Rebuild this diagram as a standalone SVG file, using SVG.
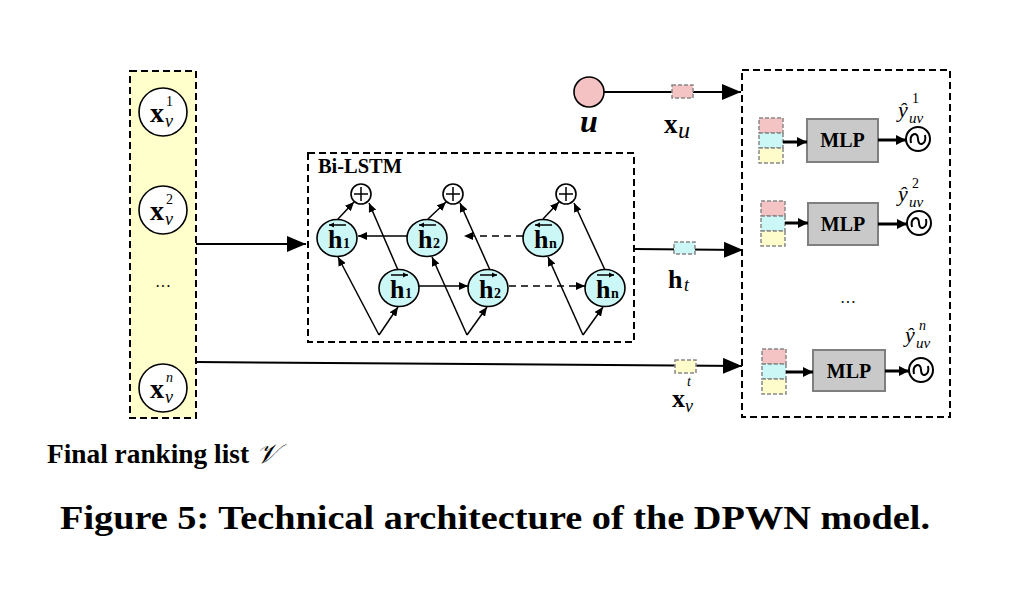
<svg xmlns="http://www.w3.org/2000/svg" width="1020" height="592" viewBox="0 0 1020 592">
<defs>
<style>
.dash{fill:none;stroke:#000;stroke-width:2;stroke-dasharray:7,4}
.in{fill:#fff;stroke:#000;stroke-width:1.6}
.hn{fill:#CCF7F7;stroke:#000;stroke-width:1.6}
.ln{stroke:#000;stroke-width:1.5;fill:none}
.big{stroke:#000;stroke-width:2;fill:none}
.mlp{fill:#C9C9C9;stroke:#7F7F7F;stroke-width:2}
.sq{stroke:#888;stroke-width:1.5;stroke-dasharray:4,2}
.pk{fill:#F4C4C4}.cy{fill:#CCF7F7}.yl{fill:#FFFCCC}
.t{font-family:"Liberation Serif","Times New Roman",serif;fill:#000}
.b{font-weight:bold}
.i{font-style:italic}
</style>
<marker id="mb" markerUnits="userSpaceOnUse" markerWidth="20" markerHeight="16" refX="19" refY="8" orient="auto"><path d="M0,0 L19,8 L0,16 z" fill="#000"/></marker>
<marker id="ms" markerUnits="userSpaceOnUse" markerWidth="10" markerHeight="8" refX="9" refY="4" orient="auto"><path d="M0,0 L9,4 L0,8 z" fill="#000"/></marker>
<marker id="mm" markerUnits="userSpaceOnUse" markerWidth="11" markerHeight="10" refX="10" refY="5" orient="auto"><path d="M0,0 L10,5 L0,10 z" fill="#000"/></marker>
<marker id="mt" markerUnits="userSpaceOnUse" markerWidth="6" markerHeight="6" refX="5" refY="3" orient="auto"><path d="M0,0.5 L5,3 L0,5.5 z" fill="#000"/></marker>
</defs>

<!-- left list -->
<g id="list">
<rect x="130" y="71" width="66" height="347" fill="#FFFFCC" stroke="#000" stroke-width="2" stroke-dasharray="7,4"/>
</g>
<g id="x1">
<circle class="in" cx="163" cy="112" r="24"/>
<text class="t b" x="150" y="122" font-size="28">x</text>
<text class="t" x="166" y="106" font-size="14">1</text>
<text class="t i" x="165" y="127" font-size="18">v</text>
</g>
<g id="x2">
<circle class="in" cx="163" cy="210" r="24"/>
<text class="t b" x="150" y="220" font-size="28">x</text>
<text class="t" x="166" y="204" font-size="14">2</text>
<text class="t i" x="165" y="225" font-size="18">v</text>
</g>
<text class="t" x="163" y="292" font-size="16" text-anchor="middle">···</text>
<g id="xn">
<circle class="in" cx="163" cy="388" r="24"/>
<text class="t b" x="150" y="398" font-size="28">x</text>
<text class="t i" x="166" y="382" font-size="14">n</text>
<text class="t i" x="165" y="403" font-size="18">v</text>
</g>

<!-- Bi-LSTM -->
<g id="bilstm">
<rect class="dash" x="308" y="153" width="326" height="189"/>
<text class="t b" x="318" y="173" font-size="20" textLength="84" lengthAdjust="spacingAndGlyphs">Bi-LSTM</text>
</g>
<g id="plus1"><circle class="in" cx="361" cy="194" r="10"/><path class="ln" d="M354,194 H368 M361,187 V201"/></g>
<g id="plus2"><circle class="in" cx="453" cy="194" r="10"/><path class="ln" d="M446,194 H460 M453,187 V201"/></g>
<g id="plus3"><circle class="in" cx="566" cy="194" r="10"/><path class="ln" d="M559,194 H573 M566,187 V201"/></g>

<g id="hb1"><ellipse class="hn" cx="337" cy="238" rx="20" ry="18.5"/>
<text class="t b" x="328" y="248" font-size="26">h</text><text class="t b" x="343" y="248" font-size="14">1</text>
<line x1="346" y1="225" x2="329" y2="225" stroke="#000" stroke-width="1.5" marker-end="url(#mt)"/></g>
<g id="hb2"><ellipse class="hn" cx="427" cy="238" rx="20" ry="18.5"/>
<text class="t b" x="418" y="248" font-size="26">h</text><text class="t b" x="433" y="248" font-size="14">2</text>
<line x1="436" y1="225" x2="419" y2="225" stroke="#000" stroke-width="1.5" marker-end="url(#mt)"/></g>
<g id="hbn"><ellipse class="hn" cx="543" cy="238" rx="20" ry="18.5"/>
<text class="t b" x="534" y="248" font-size="26">h</text><text class="t b" x="549" y="248" font-size="14">n</text>
<line x1="552" y1="225" x2="535" y2="225" stroke="#000" stroke-width="1.5" marker-end="url(#mt)"/></g>
<g id="hf1"><ellipse class="hn" cx="399" cy="288" rx="20" ry="18.5"/>
<text class="t b" x="390" y="298" font-size="26">h</text><text class="t b" x="405" y="298" font-size="14">1</text>
<line x1="391" y1="275" x2="408" y2="275" stroke="#000" stroke-width="1.5" marker-end="url(#mt)"/></g>
<g id="hf2"><ellipse class="hn" cx="488" cy="288" rx="20" ry="18.5"/>
<text class="t b" x="479" y="298" font-size="26">h</text><text class="t b" x="494" y="298" font-size="14">2</text>
<line x1="480" y1="275" x2="497" y2="275" stroke="#000" stroke-width="1.5" marker-end="url(#mt)"/></g>
<g id="hfn"><ellipse class="hn" cx="605" cy="288" rx="20" ry="18.5"/>
<text class="t b" x="596" y="298" font-size="26">h</text><text class="t b" x="611" y="298" font-size="14">n</text>
<line x1="597" y1="275" x2="614" y2="275" stroke="#000" stroke-width="1.5" marker-end="url(#mt)"/></g>

<!-- user -->
<g id="u">
<circle cx="589" cy="92" r="15" fill="#F4C2C2" stroke="#000" stroke-width="1.6"/>
<text class="t i b" x="589" y="132" font-size="32" text-anchor="middle">u</text>
</g>

<!-- output box -->
<g id="output">
<rect class="dash" x="742" y="70" width="208" height="347"/>
<text class="t" x="848" y="308" font-size="16" text-anchor="middle">···</text>
</g>
<g id="row1">
<rect class="sq pk" x="759" y="118" width="24" height="15"/>
<rect class="sq cy" x="759" y="133" width="24" height="15"/>
<rect class="sq yl" x="759" y="148" width="24" height="15"/>
<rect class="mlp" x="807" y="119" width="71" height="43"/>
<text class="t b" x="842.5" y="147" font-size="20" text-anchor="middle">MLP</text>
<circle cx="918" cy="139" r="12" fill="#fff" stroke="#000" stroke-width="2"/>
<path d="M911,143 C909,133 918,131 918,139 C918,147 927,145 925,135" fill="none" stroke="#000" stroke-width="2"/>
<text class="t i" x="898" y="117" font-size="22">ŷ</text>
<text class="t" x="912" y="103" font-size="14">1</text>
<text class="t i" x="909" y="123" font-size="15">uv</text>
</g>
<g id="row2">
<rect class="sq pk" x="761" y="201" width="24" height="15"/>
<rect class="sq cy" x="761" y="216" width="24" height="15"/>
<rect class="sq yl" x="761" y="231" width="24" height="15"/>
<rect class="mlp" x="808" y="203" width="70" height="42"/>
<text class="t b" x="843" y="231" font-size="20" text-anchor="middle">MLP</text>
<circle cx="919" cy="223" r="12" fill="#fff" stroke="#000" stroke-width="2"/>
<path d="M912,227 C910,217 919,215 919,223 C919,231 928,229 926,219" fill="none" stroke="#000" stroke-width="2"/>
<text class="t i" x="898" y="201" font-size="22">ŷ</text>
<text class="t" x="912" y="188" font-size="14">2</text>
<text class="t i" x="909" y="207" font-size="15">uv</text>
</g>
<g id="rown">
<rect class="sq pk" x="762" y="349" width="24" height="15"/>
<rect class="sq cy" x="762" y="364" width="24" height="15"/>
<rect class="sq yl" x="762" y="379" width="24" height="15"/>
<rect class="mlp" x="813" y="350" width="72" height="41"/>
<text class="t b" x="849" y="378" font-size="20" text-anchor="middle">MLP</text>
<circle cx="921" cy="370" r="12" fill="#fff" stroke="#000" stroke-width="2"/>
<path d="M914,374 C912,364 921,362 921,370 C921,378 930,376 928,366" fill="none" stroke="#000" stroke-width="2"/>
<text class="t i" x="905" y="342" font-size="22">ŷ</text>
<text class="t i" x="919" y="330" font-size="14">n</text>
<text class="t i" x="916" y="348" font-size="15">uv</text>
</g>

<!-- connectors -->
<g id="connectors">
<line class="big" x1="196" y1="244" x2="306" y2="244" marker-end="url(#mb)"/>
<line class="big" x1="196" y1="362" x2="742" y2="366" marker-end="url(#mb)"/>
<line class="big" x1="604" y1="92" x2="741" y2="92" marker-end="url(#mb)"/>
<line class="big" x1="634" y1="249" x2="743" y2="250" marker-end="url(#mb)"/>
<!-- Bi-LSTM internals -->
<path class="ln" d="M379,335 L338,257" marker-end="url(#ms)"/>
<path class="ln" d="M379,335 L398,307" marker-end="url(#ms)"/>
<path class="ln" d="M467,335 L432,257" marker-end="url(#ms)"/>
<path class="ln" d="M467,335 L487,307" marker-end="url(#ms)"/>
<path class="ln" d="M583,335 L548,257" marker-end="url(#ms)"/>
<path class="ln" d="M583,335 L603,307" marker-end="url(#ms)"/>
<path class="ln" d="M338,219 L354,202" marker-end="url(#ms)"/>
<path class="ln" d="M398,270 L369,203" marker-end="url(#ms)"/>
<path class="ln" d="M428,219 L446,202" marker-end="url(#ms)"/>
<path class="ln" d="M490,270 L460,203" marker-end="url(#ms)"/>
<path class="ln" d="M543,219 L559,202" marker-end="url(#ms)"/>
<path class="ln" d="M605,270 L574,203" marker-end="url(#ms)"/>
<path class="ln" d="M407,236 L358,236" marker-end="url(#ms)"/>
<path class="ln" d="M419,286 L468,286" marker-end="url(#ms)"/>
<path class="ln" d="M523,236 L464,236" stroke-dasharray="7,5" marker-end="url(#ms)"/>
<path class="ln" d="M509,286 L585,286" stroke-dasharray="7,5" marker-end="url(#ms)"/>
<!-- MLP arrows -->
<line x1="783" y1="142" x2="807" y2="142" stroke="#000" stroke-width="3" marker-end="url(#mm)"/>
<line x1="878" y1="140" x2="906" y2="140" stroke="#000" stroke-width="3" marker-end="url(#mm)"/>
<line x1="785" y1="223" x2="808" y2="223" stroke="#000" stroke-width="3" marker-end="url(#mm)"/>
<line x1="878" y1="224" x2="907" y2="224" stroke="#000" stroke-width="3" marker-end="url(#mm)"/>
<line x1="786" y1="372" x2="813" y2="372" stroke="#000" stroke-width="3" marker-end="url(#mm)"/>
<line x1="885" y1="371" x2="909" y2="371" stroke="#000" stroke-width="3" marker-end="url(#mm)"/>
</g>

<!-- vector chips and labels on connectors -->
<g id="xu">
<rect class="sq pk" x="672" y="85" width="21" height="13"/>
<text class="t b" x="664" y="133" font-size="27">x</text>
<text class="t i" x="678" y="138" font-size="24">u</text>
</g>
<g id="ht">
<rect class="sq cy" x="674" y="242" width="21" height="12"/>
<text class="t b" x="668" y="288" font-size="26">h</text>
<text class="t i" x="684" y="291" font-size="18">t</text>
</g>
<g id="xvt">
<rect class="sq yl" x="675" y="360" width="21" height="13"/>
<text class="t b" x="672" y="407" font-size="26">x</text>
<text class="t i" x="687" y="386" font-size="14">t</text>
<text class="t i" x="685" y="412" font-size="18">v</text>
</g>

<text class="t b" x="47" y="463" font-size="27" textLength="202" lengthAdjust="spacingAndGlyphs">Final ranking list</text>
<text class="t i" x="256" y="463" font-size="27">𝒱</text>

<text class="t b" x="60" y="529" font-size="33" textLength="870" lengthAdjust="spacingAndGlyphs">Figure 5: Technical architecture of the DPWN model.</text>
</svg>
